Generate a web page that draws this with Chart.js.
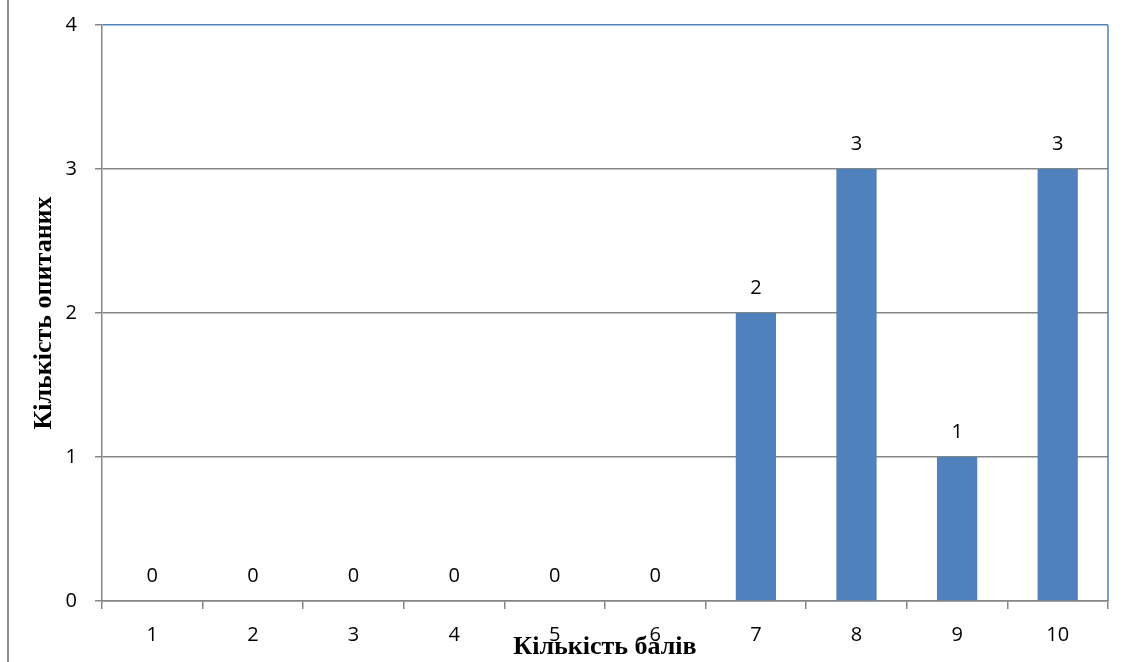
<!DOCTYPE html>
<html>
<head>
<meta charset="utf-8">
<script src="https://cdn.jsdelivr.net/npm/chart.js@4/dist/chart.umd.min.js"></script>
<style>
    body { margin: 0; background: #fff; }
    canvas { display: block; }
</style>
</head>
<body>
<canvas id="scoreChart" width="1125" height="662"></canvas>
<script>
const scoreLabels = ["1", "2", "3", "4", "5", "6", "7", "8", "9", "10"];
const respondentCounts = [0, 0, 0, 0, 0, 0, 2, 3, 1, 3];
const countTicks = [0, 1, 2, 3, 4];

const xTitle = "Кількість балів";
const yTitle = "Кількість опитаних";

const BAR_BLUE = "#4F81BD";
const GRID_GREY = "#868686";
const TICK_FONT = { family: "'Open Sans', 'Noto Sans', sans-serif", size: 20 };

// Frame line, plot border, value labels and axis titles
const decorPlugin = {
    id: "decor",
    afterDraw(chart) {
        const ctx = chart.ctx;
        const area = chart.chartArea;

        ctx.save();

        // outer frame line on the left
        ctx.strokeStyle = "#8c8c8c";
        ctx.lineWidth = 2;
        ctx.beginPath();
        ctx.moveTo(8, 0);
        ctx.lineTo(8, chart.height);
        ctx.stroke();

        // blue plot border on the right
        ctx.strokeStyle = BAR_BLUE;
        ctx.lineWidth = 1.5;
        ctx.beginPath();
        ctx.moveTo(area.right, area.top);
        ctx.lineTo(area.right, area.bottom);
        ctx.stroke();

        // value labels
        ctx.fillStyle = "#000";
        ctx.font = `${TICK_FONT.size}px ${TICK_FONT.family}`;
        ctx.textAlign = "center";
        ctx.textBaseline = "alphabetic";
        const meta = chart.getDatasetMeta(0);
        meta.data.forEach((bar, i) => {
            ctx.fillText(String(respondentCounts[i]), bar.x, bar.y - 19);
        });

        // axis titles
        ctx.font = "bold 26px 'Liberation Serif', 'Times New Roman', serif";
        ctx.fillText(xTitle, (area.left + area.right) / 2, 654);

        ctx.translate(51, (area.top + area.bottom) / 2);
        ctx.rotate(-Math.PI / 2);
        ctx.fillText(yTitle, 0, 0);

        ctx.restore();
    }
};

new Chart(document.getElementById("scoreChart"), {
    type: "bar",
    data: {
        labels: scoreLabels,
        datasets: [{
            data: respondentCounts,
            backgroundColor: BAR_BLUE,
            barPercentage: 0.4,
            categoryPercentage: 1.0
        }]
    },
    options: {
        responsive: false,
        animation: false,
        layout: {
            padding: { top: 25, right: 17, left: 0, bottom: 0 }
        },
        plugins: {
            legend: { display: false },
            tooltip: { enabled: false }
        },
        scales: {
            x: {
                afterFit(scale) {
                    scale.height = 61;
                    scale.paddingRight = 0;
                    scale.paddingLeft = 0;
                },
                grid: {
                    offset: true,
                    drawOnChartArea: false,
                    tickLength: 8,
                    color: GRID_GREY,
                    lineWidth: 1.5
                },
                border: { color: GRID_GREY, width: 1.5 },
                ticks: {
                    color: "#000",
                    font: TICK_FONT,
                    padding: 14,
                    maxRotation: 0
                }
            },
            y: {
                min: 0,
                max: 4,
                afterFit(scale) {
                    scale.width = 102;
                    scale.paddingTop = 0;
                    scale.paddingBottom = 0;
                },
                afterBuildTicks(scale) {
                    scale.ticks = countTicks.map(v => ({ value: v }));
                },
                grid: {
                    tickLength: 7,
                    color: c => (c.tick && c.tick.value === 4 ? BAR_BLUE : GRID_GREY),
                    tickColor: GRID_GREY,
                    lineWidth: 1.5
                },
                border: { color: GRID_GREY, width: 1.5 },
                ticks: {
                    color: "#000",
                    font: TICK_FONT,
                    padding: 18
                }
            }
        }
    },
    plugins: [decorPlugin]
});
</script>
</body>
</html>
